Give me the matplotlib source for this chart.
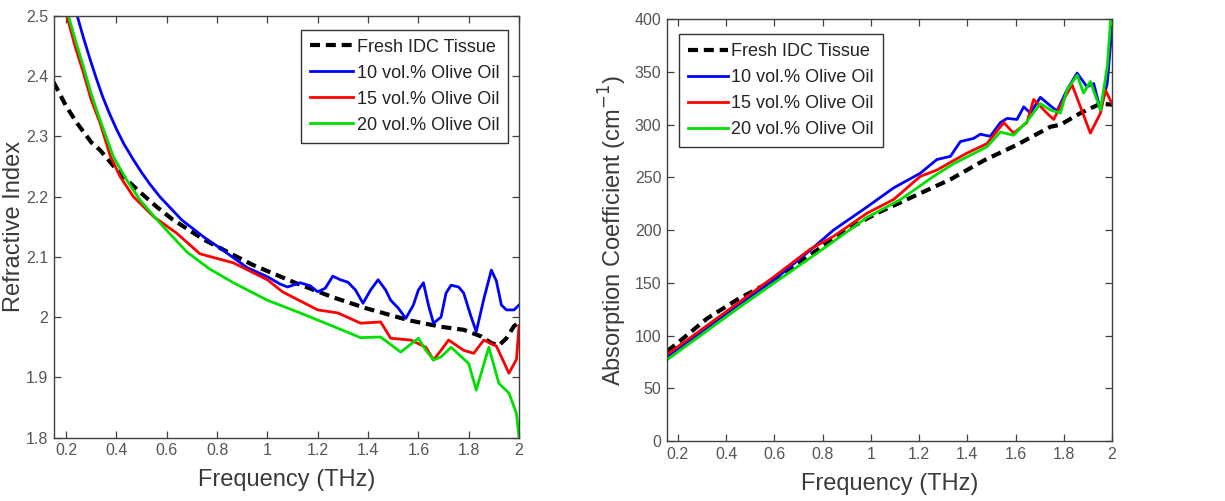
import matplotlib
matplotlib.use('Agg')
import matplotlib.pyplot as plt
from matplotlib.ticker import FuncFormatter

plt.rcParams['font.family'] = ['Liberation Sans', 'DejaVu Sans']

# ---- refractive index (left panel) ----
ri_tissue_f = [0.15, 0.2, 0.243, 0.3, 0.335, 0.4, 0.44, 0.5, 0.56, 0.62, 0.69, 0.75, 0.81, 0.94, 1.11,
               1.26, 1.39, 1.56, 1.69, 1.78, 1.85, 1.89, 1.92, 1.95, 1.98, 2.0]
ri_tissue_n = [2.39, 2.35, 2.322, 2.29, 2.277, 2.245, 2.228, 2.205, 2.183, 2.163, 2.144, 2.128, 2.115, 2.087, 2.057,
               2.033, 2.015, 1.995, 1.984, 1.979, 1.968, 1.957, 1.953, 1.965, 1.985, 1.992]

ri_10_f = [0.244, 0.27, 0.295, 0.32, 0.345, 0.37, 0.4, 0.43, 0.466, 0.5, 0.534, 0.574, 0.66, 0.75, 0.81, 0.92,
           1.0, 1.05, 1.08, 1.13, 1.17, 1.2, 1.23, 1.26, 1.29, 1.32, 1.35, 1.38, 1.41, 1.44, 1.47, 1.49, 1.52,
           1.55, 1.58, 1.6, 1.62, 1.64, 1.66, 1.69, 1.71, 1.73, 1.76, 1.78, 1.81, 1.83, 1.86, 1.89, 1.91, 1.93,
           1.95, 1.98, 2.0]
ri_10_n = [2.5, 2.462, 2.428, 2.396, 2.366, 2.34, 2.312, 2.287, 2.262, 2.24, 2.22, 2.199, 2.161, 2.132, 2.115,
           2.082, 2.067, 2.055, 2.05, 2.057, 2.052, 2.042, 2.048, 2.068, 2.062, 2.058, 2.045, 2.023, 2.045, 2.062,
           2.045, 2.028, 2.015, 1.998, 2.02, 2.045, 2.057, 2.02, 1.99, 2.0, 2.04, 2.053, 2.05, 2.04, 2.0, 1.976,
           2.03, 2.078, 2.06, 2.02, 2.012, 2.012, 2.02]

ri_15_f = [0.203, 0.235, 0.269, 0.3, 0.335, 0.375, 0.415, 0.467, 0.547, 0.64, 0.732, 0.865, 1.0, 1.06, 1.2,
           1.28, 1.37, 1.45, 1.49, 1.57, 1.63, 1.66, 1.69, 1.72, 1.78, 1.82, 1.86, 1.91, 1.96, 1.99, 2.0]
ri_15_n = [2.5, 2.45, 2.405, 2.36, 2.322, 2.268, 2.233, 2.2, 2.167, 2.139, 2.105, 2.09, 2.062, 2.042, 2.012,
           2.007, 1.99, 1.992, 1.965, 1.962, 1.95, 1.929, 1.945, 1.962, 1.945, 1.94, 1.962, 1.952, 1.907, 1.93,
           1.986]

ri_20_f = [0.209, 0.24, 0.269, 0.3, 0.335, 0.388, 0.44, 0.494, 0.573, 0.68, 0.77, 0.865, 1.0, 1.13, 1.26, 1.37,
           1.45, 1.53, 1.6, 1.63, 1.66, 1.69, 1.73, 1.8, 1.83, 1.88, 1.92, 1.96, 1.99, 2.0]
ri_20_n = [2.5, 2.455, 2.415, 2.37, 2.327, 2.266, 2.228, 2.194, 2.156, 2.108, 2.08, 2.057, 2.028, 2.007, 1.985,
           1.966, 1.967, 1.942, 1.965, 1.945, 1.929, 1.934, 1.95, 1.923, 1.879, 1.95, 1.89, 1.874, 1.84, 1.8]

# ---- absorption coefficient (right panel) ----
ac_tissue_f = [0.155, 0.22, 0.32, 0.445, 0.6, 0.74, 0.874, 1.025, 1.177, 1.329, 1.468, 1.606, 1.744, 1.786,
               1.869, 1.952, 2.0]
ac_tissue_a = [85, 97, 116, 134, 153, 175, 197, 216, 232, 248, 266, 281, 298, 300, 311, 320, 319]

ac_10_f = [0.155, 0.3, 0.45, 0.6, 0.749, 0.845, 0.984, 1.094, 1.205, 1.274, 1.33, 1.371, 1.426, 1.454, 1.495,
           1.537, 1.565, 1.606, 1.634, 1.661, 1.703, 1.744, 1.772, 1.813, 1.855, 1.896, 1.924, 1.952, 1.98, 2.0]
ac_10_a = [80, 104, 129, 153, 181, 200, 222, 240, 254, 267, 270, 284, 287, 291, 289,
           302, 306, 305, 317, 311, 326, 318, 313, 333, 349, 336, 339, 314, 339, 393]

ac_15_f = [0.155, 0.3, 0.45, 0.6, 0.749, 0.845, 0.984, 1.094, 1.205, 1.274, 1.343, 1.398, 1.481, 1.551, 1.592,
           1.647, 1.675, 1.73, 1.758, 1.8, 1.834, 1.869, 1.91, 1.952, 1.972, 2.0]
ac_15_a = [82, 106, 131, 156, 182, 194, 216, 229, 251, 257, 266, 273, 282, 302, 292,
           302, 324, 311, 305, 324, 338, 317, 292, 311, 333, 320]

ac_20_f = [0.155, 0.3, 0.45, 0.6, 0.776, 0.984, 1.123, 1.26, 1.343, 1.412, 1.481, 1.537, 1.592, 1.647, 1.703,
           1.744, 1.786, 1.813, 1.855, 1.882, 1.91, 1.952, 1.98, 1.994]
ac_20_a = [77, 101, 126, 150, 178, 212, 229, 251, 263, 271, 279, 293, 290, 303, 320,
           314, 311, 333, 347, 330, 341, 314, 355, 399]

labels = ['Fresh IDC Tissue', '10 vol.% Olive Oil', '15 vol.% Olive Oil', '20 vol.% Olive Oil']
colors = ['black', '#0000ff', '#ff0000', '#00e000']

axis_col = '#404040'
tick_col = '#555555'
label_col = '#3a3a3a'


def style_axes(ax):
    for s in ax.spines.values():
        s.set_color(axis_col)
        s.set_linewidth(1.0)
    ax.tick_params(direction='in', top=True, right=True, length=5, width=0.9,
                   color=axis_col, labelcolor=tick_col, labelsize=11.5, pad=4)
    ax.set_xticks([0.2, 0.4, 0.6, 0.8, 1.0, 1.2, 1.4, 1.6, 1.8, 2.0])
    ax.xaxis.set_major_formatter(FuncFormatter(lambda v, p: '%g' % round(v, 2)))
    ax.set_xlabel('Frequency (THz)', fontsize=17, color=label_col, labelpad=8)


def draw(ax, series):
    for (f, v), lab, c in zip(series, labels, colors):
        if c == 'black':
            ax.plot(f, v, color=c, lw=3.0, ls=(0, (2.4, 1.4)), label=lab)
        else:
            ax.plot(f, v, color=c, lw=2.0, label=lab)


fig = plt.figure(figsize=(12.25, 5.01), dpi=100)
ax1 = fig.add_axes([0.0441, 0.1263, 0.3796, 0.8424])
ax2 = fig.add_axes([0.5445, 0.1198, 0.3633, 0.8417])

draw(ax1, [(ri_tissue_f, ri_tissue_n), (ri_10_f, ri_10_n), (ri_15_f, ri_15_n), (ri_20_f, ri_20_n)])
ax1.set_xlim(0.152, 2.0)
ax1.set_ylim(1.8, 2.5)
ax1.set_yticks([1.8, 1.9, 2.0, 2.1, 2.2, 2.3, 2.4, 2.5])
ax1.yaxis.set_major_formatter(FuncFormatter(lambda v, p: '%g' % round(v, 2)))
style_axes(ax1)
ax1.set_ylabel('Refractive Index', fontsize=17, color=label_col, labelpad=1)

draw(ax2, [(ac_tissue_f, ac_tissue_a), (ac_10_f, ac_10_a), (ac_15_f, ac_15_a), (ac_20_f, ac_20_a)])
ax2.set_xlim(0.155, 2.0)
ax2.set_ylim(0, 400)
ax2.set_yticks(range(0, 401, 50))
style_axes(ax2)
ax2.set_ylabel('Absorption Coefficient (cm$^{-1}$)', fontsize=17, color=label_col, labelpad=4)

leg_kw = dict(frameon=True, fancybox=False, edgecolor='#333333', framealpha=1,
              handletextpad=0.2, labelspacing=0.5, borderpad=0.5, borderaxespad=0)
l1 = ax1.legend(loc='upper right', bbox_to_anchor=(0.977, 0.967), fontsize=13, handlelength=2.4, **leg_kw)
l2 = ax2.legend(loc='upper left', bbox_to_anchor=(0.027, 0.965), fontsize=13, handlelength=2.2, **leg_kw)
for lg in (l1, l2):
    lg.get_frame().set_linewidth(1.0)
    for t in lg.get_texts():
        t.set_color('#222222')

fig.savefig('out.png', dpi=100)
